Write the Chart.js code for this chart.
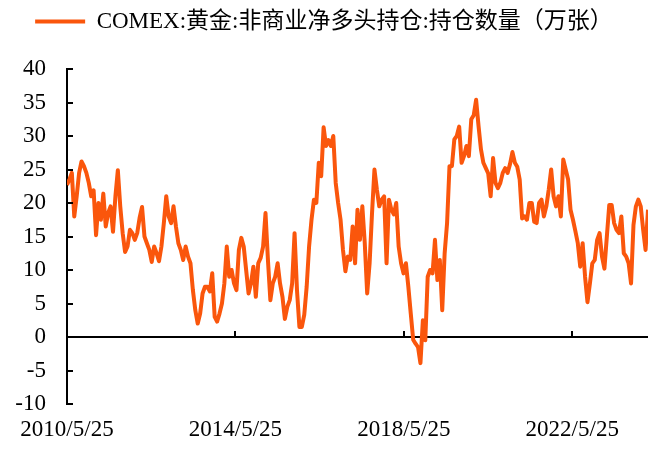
<!DOCTYPE html>
<html>
<head>
<meta charset="utf-8">
<script src="https://cdn.jsdelivr.net/npm/chart.js@4.4.1/dist/chart.umd.min.js"></script>
<style>
  body { margin: 0; background: #fff; }
  canvas { display: block; }
</style>
</head>
<body>
<canvas id="goldChart" width="659" height="459"></canvas>
<script>
// series: COMEX gold non-commercial net long, read every 21 days from 2010/5/25
const startDate = '2010/5/25';
const sampleDays = 21;
const seriesName = 'COMEX:黄金:非商业净多头持仓:持仓数量（万张）';
const tickLabels = ['2010/5/25', '2014/5/25', '2018/5/25', '2022/5/25'];
const netLong = [
    22.7, 23.5, 24.5, 18.0, 21.0, 24.5, 26.2, 25.5, 24.5, 23.0,
    21.0, 21.9, 15.2, 20.0, 17.5, 21.4, 16.5, 18.5, 19.5, 15.7,
    21.0, 24.9, 19.5, 15.5, 12.7, 13.5, 16.0, 15.5, 14.5, 15.5,
    17.8, 19.4, 15.0, 14.0, 13.0, 11.2, 13.5, 12.5, 11.3, 13.5,
    17.0, 21.0, 18.0, 17.0, 19.5, 16.5, 14.0, 13.0, 11.5, 13.5,
    12.0, 11.0, 7.0, 4.0, 2.0, 3.5, 6.5, 7.5, 7.5, 6.8,
    9.5, 3.0, 2.3, 3.5, 5.0, 8.0, 13.5, 9.0, 10.0, 8.0,
    7.0, 13.0, 14.8, 13.5, 10.0, 6.5, 8.0, 10.5, 6.0, 11.0,
    11.8, 13.5, 18.5, 11.5, 5.5, 8.0, 9.0, 11.0, 8.0, 6.0,
    2.7, 4.5, 5.5, 8.0, 15.5, 7.0, 1.5, 1.5, 3.3, 7.5,
    13.5, 17.5, 20.5, 20.0, 26.0, 24.0, 31.3, 28.5, 29.4, 28.5,
    30.0, 23.0, 20.0, 17.5, 13.0, 9.8, 12.0, 11.5, 16.5, 11.0,
    19.0, 14.5, 19.5, 14.0, 6.5, 11.0, 18.5, 25.0, 22.0, 19.5,
    20.5, 21.0, 11.0, 20.5, 19.0, 18.3, 20.0, 13.5, 11.0, 9.5,
    11.0, 7.5, 3.5, -0.4, -1.0, -1.5, -3.9, 2.5, -0.5, 9.0,
    10.0, 9.5, 14.5, 8.5, 11.5, 4.0, 12.5, 17.0, 25.5, 25.5,
    29.5, 30.0, 31.4, 26.0, 27.0, 28.5, 27.0, 32.5, 33.1, 35.4,
    31.5, 28.0, 26.0, 25.2, 24.4, 21.0, 26.7, 23.0, 22.2, 23.0,
    24.5, 25.2, 24.5, 25.8, 27.6, 26.0, 25.4, 23.5, 17.7, 18.0,
    17.5, 20.0, 20.0, 17.2, 17.0, 20.0, 20.5, 18.0, 19.5, 22.0,
    25.0, 21.0, 19.5, 21.0, 18.0, 26.5, 25.0, 23.5, 19.0, 17.5,
    15.8, 14.0, 10.5, 14.0, 9.0, 5.2, 8.0, 11.0, 11.5, 14.5,
    15.5, 12.0, 10.2, 15.0, 19.7, 19.7, 17.0, 16.0, 15.5, 18.0,
    12.5, 12.0, 11.0, 8.0, 16.7, 19.5, 20.5, 19.5, 16.0, 13.0,
    19.0
];

const lineColor = '#fa560c';
const textFont = { family: '"Liberation Serif", "Noto Sans CJK SC", serif', size: 23 };

function daysFromStart(dateStr) {
    const [y, m, d] = dateStr.split('/').map(Number);
    const [y0, m0, d0] = startDate.split('/').map(Number);
    return Math.round((Date.UTC(y, m - 1, d) - Date.UTC(y0, m0 - 1, d0)) / 86400000);
}

const tickDays = tickLabels.map(daysFromStart);
const points = netLong.map((v, i) => ({ x: i * sampleDays, y: v }));
const lastDay = (netLong.length - 1) * sampleDays;

// small inward tick marks, like the original axes
const innerTicks = {
    id: 'innerTicks',
    afterDraw(chart) {
        const ctx = chart.ctx;
        const xs = chart.scales.x;
        const ys = chart.scales.y;
        const zeroY = ys.getPixelForValue(0);
        ctx.save();
        ctx.strokeStyle = '#000';
        ctx.lineWidth = 2;
        ctx.beginPath();
        ys.ticks.forEach(t => {
            const py = Math.round(ys.getPixelForValue(t.value));
            ctx.moveTo(ys.right, py);
            ctx.lineTo(ys.right + 6, py);
        });
        xs.ticks.forEach(t => {
            const px = Math.round(xs.getPixelForValue(t.value));
            ctx.moveTo(px, zeroY);
            ctx.lineTo(px, zeroY - 6);
        });
        ctx.stroke();
        ctx.restore();
    }
};

// extra room under the legend
const legendMargin = {
    id: 'legendMargin',
    beforeInit(chart) {
        const fitValue = chart.legend.fit;
        chart.legend.fit = function fit() {
            fitValue.bind(chart.legend)();
            this.height += 26;
        };
    }
};

new Chart(document.getElementById('goldChart'), {
    type: 'line',
    data: {
        datasets: [{
            label: seriesName,
            data: points,
            borderColor: lineColor,
            backgroundColor: lineColor,
            borderWidth: 4,
            pointRadius: 0,
            tension: 0,
            borderJoinStyle: 'round'
        }]
    },
    options: {
        responsive: false,
        animation: false,
        devicePixelRatio: 1,
        layout: { padding: { left: 0, right: 11, top: 0, bottom: 0 } },
        plugins: {
            legend: {
                position: 'top',
                labels: {
                    usePointStyle: true,
                    pointStyle: 'line',
                    pointStyleWidth: 50,
                    color: '#000',
                    font: textFont,
                    padding: 10
                }
            },
            tooltip: { enabled: false }
        },
        scales: {
            x: {
                type: 'linear',
                min: 0,
                max: lastDay,
                afterBuildTicks: s => { s.ticks = tickDays.map(v => ({ value: v })); },
                afterFit: s => { s.height = 55; },
                ticks: {
                    callback: (v, i) => tickLabels[i],
                    color: '#000',
                    font: textFont,
                    padding: 12,
                    maxRotation: 0,
                    autoSkip: false
                },
                grid: { display: false, drawTicks: false },
                border: { display: false }
            },
            y: {
                min: -10,
                max: 40,
                afterFit: s => { s.width = 67; },
                ticks: {
                    stepSize: 5,
                    color: '#000',
                    font: textFont,
                    padding: 21
                },
                grid: {
                    drawTicks: false,
                    lineWidth: 2,
                    color: c => (c.tick && c.tick.value === 0) ? '#000' : 'rgba(0,0,0,0)'
                },
                border: { display: true, color: '#000', width: 2 }
            }
        }
    },
    plugins: [innerTicks, legendMargin]
});
</script>
</body>
</html>
